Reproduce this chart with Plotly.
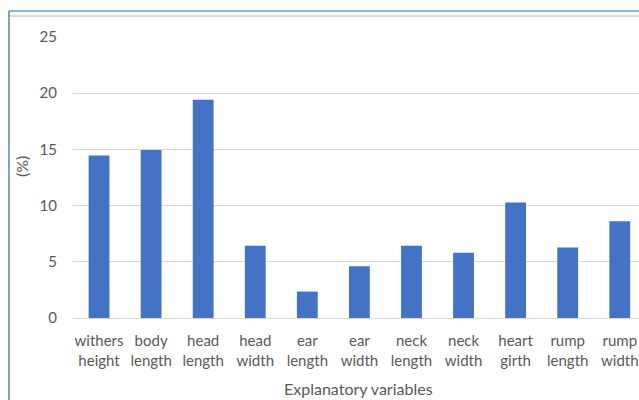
import plotly.graph_objects as go

categories = ["withers<br>height", "body<br>length", "head<br>length", "head<br>width", "ear<br>length",
              "ear<br>width", "neck<br>length", "neck<br>width", "heart<br>girth", "rump<br>length", "rump<br>width"]
values = [14.45, 14.95, 19.42, 6.43, 2.35, 4.6, 6.43, 5.8, 10.28, 6.28, 8.6]
y_ticks = [0, 5, 10, 15, 20, 25]

W, H = 639, 400
ml, mr, mt, mb = 73, 0, 37, 82
pw, ph = W - ml - mr, H - mt - mb

def px_x(x):
    return (x - ml) / pw

def px_y(y):
    return (H - mb - y) / ph

fig = go.Figure(go.Bar(x=list(range(len(categories))), y=values, marker=dict(color="#4472C4", line=dict(width=0)),
                       width=0.4))

FONT = "Lato, Open Sans, sans-serif"
fig.update_layout(
    width=W, height=H,
    margin=dict(l=ml, r=mr, t=mt, b=mb),
    paper_bgcolor="white", plot_bgcolor="white",
    showlegend=False,
    font=dict(family=FONT, color="#595959", size=15),
    xaxis=dict(
        tickmode="array", tickvals=list(range(len(categories))), ticktext=categories,
        range=[-0.5, 10.5 - 6.8 / 52.1], showgrid=False, zeroline=False, showline=False,
        ticks="", tickfont=dict(size=15, color="#595959"), ticklabelstandoff=12,
    ),
    yaxis=dict(
        range=[0, 25], tickvals=y_ticks, showgrid=True, gridcolor="#d9d9d9", gridwidth=1,
        zeroline=True, zerolinecolor="#d9d9d9", zerolinewidth=1, showline=False,
        ticks="", tickfont=dict(size=15, color="#595959"), ticklabelstandoff=15,
    ),
    shapes=[
        dict(type="line", xref="paper", yref="paper", x0=px_x(8), x1=px_x(W + 5), y0=px_y(16), y1=px_y(16),
             line=dict(color="#d9d9d9", width=2)),
        dict(type="line", xref="paper", yref="paper", x0=px_x(9), x1=px_x(W + 5), y0=px_y(11), y1=px_y(11),
             line=dict(color="#6a9cc0", width=1.5)),
        dict(type="line", xref="paper", yref="paper", x0=px_x(9), x1=px_x(9), y0=px_y(11), y1=px_y(H + 5),
             line=dict(color="#4a86b0", width=1.5)),
    ],
    annotations=[
        dict(text="(%)", xref="paper", yref="paper", x=px_x(21), y=px_y(167), textangle=-90,
             showarrow=False, font=dict(size=16, color="#595959"), xanchor="center", yanchor="middle"),
        dict(text="Explanatory variables", xref="paper", yref="paper", x=px_x(358), y=px_y(388),
             showarrow=False, font=dict(size=16, color="#595959"), xanchor="center", yanchor="middle"),
    ],
)

fig.write_html("out.html", config={"displayModeBar": False},
               post_script="document.body.style.margin='0px';document.body.style.overflow='hidden';")
